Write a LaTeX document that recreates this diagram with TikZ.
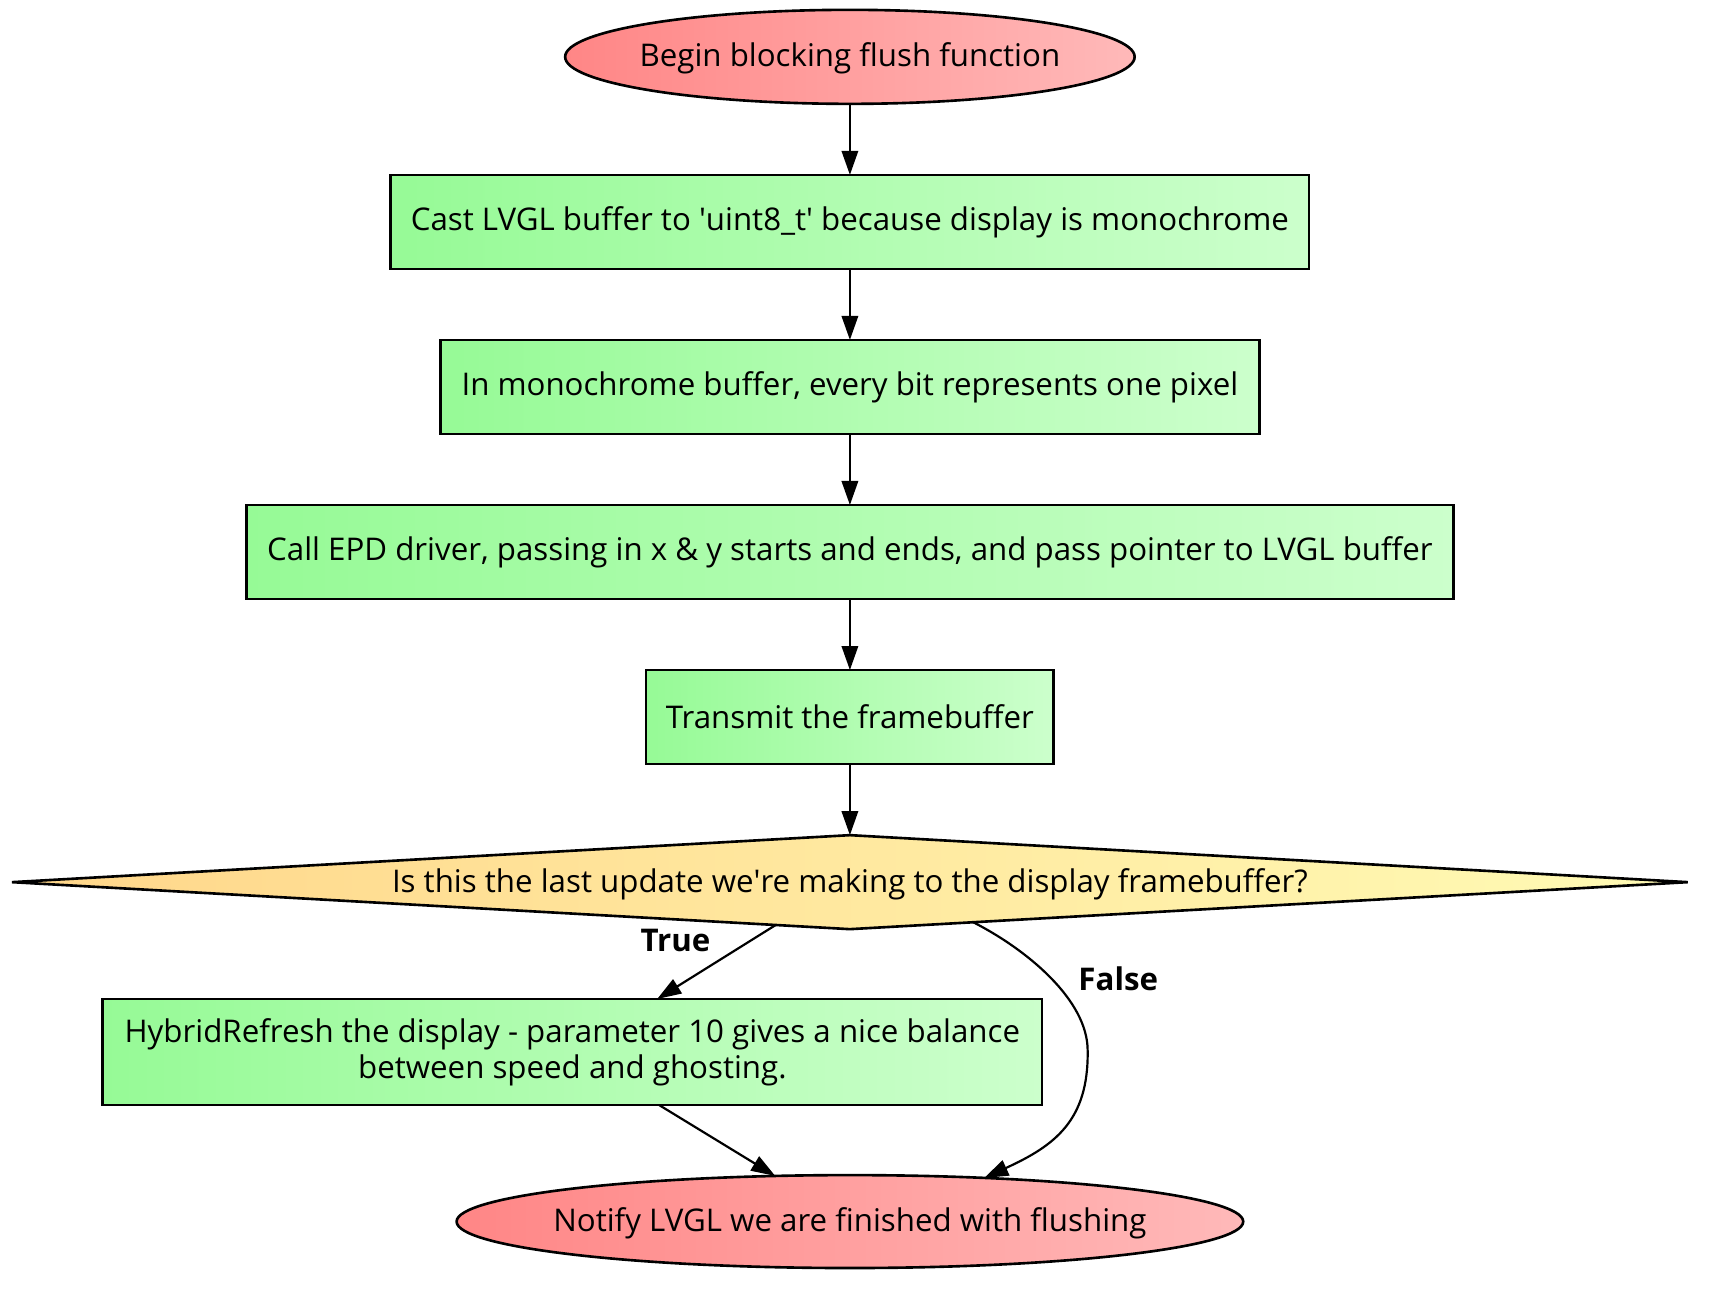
\documentclass[tikz,border=0pt]{standalone}
\usepackage{fontspec}
\setmainfont{Open Sans}
\usetikzlibrary{shapes.geometric,arrows.meta}
\definecolor{termL}{HTML}{FF8686}
\definecolor{termR}{HTML}{FFB9B9}
\definecolor{procL}{HTML}{96FA96}
\definecolor{procR}{HTML}{CCFFCC}
\definecolor{decL}{HTML}{FFD68A}
\definecolor{decR}{HTML}{FFFBB5}
\begin{document}
\begin{tikzpicture}[x=0.5pt,y=-0.5pt, font=\fontsize{14.3}{16.5}\selectfont,
  term/.style={ellipse, draw, line width=1.2pt, inner sep=0pt, outer sep=0pt, left color=termL, right color=termR},
  proc/.style={rectangle, draw, line width=1.2pt, inner sep=0pt, outer sep=0pt, left color=procL, right color=procR, minimum height=43pt, align=center},
  dec/.style={diamond, draw, line width=1.2pt, inner sep=0pt, outer sep=0pt, left color=decL, right color=decR},
  flow/.style={draw, line width=1pt, -{Triangle[length=11pt,width=7.5pt]}},
  elabel/.style={font=\fontsize{14.3}{16.5}\selectfont\bfseries}]
\useasboundingbox (0,0) rectangle (1568,1183.8);

\node[term, minimum width=260.5pt, minimum height=43pt, label={[yshift=-0.8pt]center:{Begin blocking flush function}}] (e1) at (777.5,52) {};
\node[proc, minimum width=420pt] (b1) at (777.5,203) {Cast LVGL buffer to \textquotesingle uint8\_t\textquotesingle{} because display is monochrome};
\node[proc, minimum width=374.5pt] (b2) at (777.5,354) {In monochrome buffer, every bit represents one pixel};
\node[proc, minimum width=552pt] (b3) at (777.5,505) {Call EPD driver, passing in x \& y starts and ends, and pass pointer to LVGL buffer};
\node[proc, minimum width=186.5pt] (b4) at (777.5,656) {Transmit the framebuffer};
\node[dec, minimum width=766.6pt, minimum height=43pt, label={[yshift=-0.8pt]center:{Is this the last update we\textquotesingle re making to the display framebuffer?}}] (dec) at (777.5,807) {};
\node[proc, minimum width=429.6pt, minimum height=48.5pt] (b5) at (523.6,962.4) {HybridRefresh the display - parameter 10 gives a nice balance\\between speed and ghosting.};
\node[term, minimum width=359.8pt, minimum height=42.5pt, label={[yshift=-0.8pt]center:{Notify LVGL we are finished with flushing}}] (e2) at (777.5,1117.5) {};

\draw[flow] (e1) -- (b1);
\draw[flow] (b1) -- (b2);
\draw[flow] (b2) -- (b3);
\draw[flow] (b3) -- (b4);
\draw[flow] (b4) -- (dec);
\draw[flow] (dec.210.8) -- (b5);
\draw[flow] (b5) -- (e2);
\draw[flow] (dec.342.7) .. controls (940,869) and (995,915) .. (995,961) .. controls (996,1025) and (965,1048) .. (e2.18);

\node[elabel] (tl) at (618,860) {True};
\node[elabel] (fl) at (1023,895) {False};
\end{tikzpicture}
\end{document}
